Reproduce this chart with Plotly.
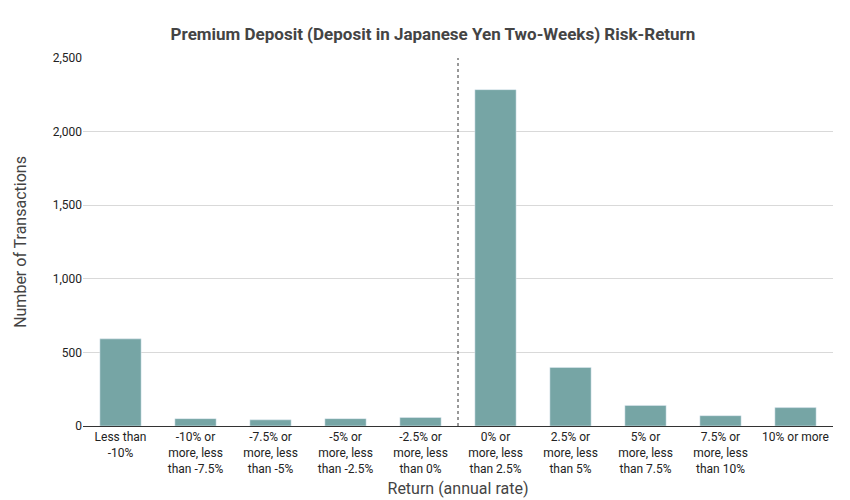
import plotly.graph_objects as go

categories = ["Less than<br>-10%", "-10% or<br>more, less<br>than -7.5%", "-7.5% or<br>more, less<br>than -5%",
              "-5% or<br>more, less<br>than -2.5%", "-2.5% or<br>more, less<br>than 0%", "0% or<br>more, less<br>than 2.5%",
              "2.5% or<br>more, less<br>than 5%", "5% or<br>more, less<br>than 7.5%", "7.5% or<br>more, less<br>than 10%",
              "10% or more"]
counts = [592, 50, 42, 50, 58, 2285, 398, 140, 70, 125]
y_ticks = [0, 500, 1000, 1500, 2000, 2500]

fig = go.Figure(go.Bar(x=list(range(len(categories))), y=counts, marker_color="#76a5a5", width=0.55))
fig.update_layout(
    width=850, height=500, plot_bgcolor="white", paper_bgcolor="white",
    font=dict(family="Roboto", color="#333"),
    title=dict(text="<b>Premium Deposit (Deposit in Japanese Yen Two-Weeks) Risk-Return</b>", x=0.5, y=0.96,
               font=dict(size=17, color="#444")),
    margin=dict(l=75, r=25, t=50, b=82),
    xaxis=dict(tickvals=list(range(len(categories))), ticktext=categories, tickfont=dict(size=12, color="#222"),
               title=dict(text="Return (annual rate)", font=dict(size=16, color="#444"), standoff=8),
               showline=True, linecolor="#333", linewidth=1, range=[-0.5, 9.5]),
    yaxis=dict(tickvals=y_ticks, tickformat=",", range=[0, 2500], gridcolor="#d9d9d9",
               tickfont=dict(size=12, color="#222"),
               title=dict(text="Number of Transactions", font=dict(size=16, color="#444"), standoff=22)),
    showlegend=False,
)
fig.add_shape(type="line", x0=4.5, x1=4.5, y0=0, y1=1, xref="x", yref="paper",
              line=dict(color="#333", width=1, dash="dot"))
fig.add_annotation(text="Nov 2015 - Mar 2025", xref="paper", yref="paper", x=1.0, y=-0.19,
                   xanchor="right", yanchor="top", showarrow=False, font=dict(size=12, color="#333"))
fig.write_html("out.html")
